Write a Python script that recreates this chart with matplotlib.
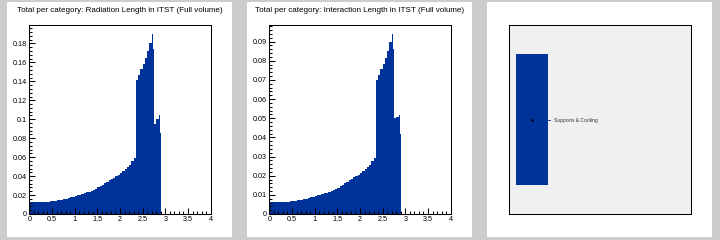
"""
Material budget per category in ITST (ROOT-style canvas with three pads).
"""

import numpy as np
import matplotlib.pyplot as plt
from matplotlib.patches import Rectangle
from matplotlib.ticker import MultipleLocator, FuncFormatter

# ============================================================
# Data
# ============================================================

# bin edges in x (0.05 wide, finer near the end of the detector)
BIN_EDGES = list(np.round(np.arange(0.0, 2.701, 0.05), 3)) + [2.725, 2.75, 2.8, 2.85, 2.875, 2.9]

RADIATION_LENGTH = [
    0.0127, 0.0127, 0.0127, 0.0127, 0.0127, 0.0127, 0.0127, 0.0127,
    0.0130, 0.0137, 0.0137, 0.0140, 0.0148, 0.0148, 0.0152, 0.0158,
    0.0162, 0.0169, 0.0175, 0.0182, 0.0190, 0.0196, 0.0204, 0.0211,
    0.0219, 0.0227, 0.0236, 0.0245, 0.0255, 0.0266, 0.0280, 0.0295,
    0.0310, 0.0325, 0.0340, 0.0355, 0.0370, 0.0385, 0.0400, 0.0415,
    0.0430, 0.0450, 0.0470, 0.0495, 0.0520, 0.0555, 0.0595,
    0.141, 0.147, 0.153, 0.158, 0.165, 0.172, 0.181,
    0.190, 0.174, 0.095, 0.100, 0.1045, 0.085,
]

INTERACTION_LENGTH = [
    0.0063, 0.0063, 0.0063, 0.0063, 0.0063, 0.0063, 0.0063, 0.0063,
    0.0064, 0.0068, 0.0068, 0.0069, 0.0073, 0.0073, 0.0075, 0.0078,
    0.0080, 0.0084, 0.0087, 0.0090, 0.0094, 0.0097, 0.0101, 0.0104,
    0.0108, 0.0112, 0.0117, 0.0121, 0.0126, 0.0132, 0.0138, 0.0146,
    0.0153, 0.0161, 0.0168, 0.0176, 0.0183, 0.0191, 0.0198, 0.0205,
    0.0213, 0.0223, 0.0233, 0.0245, 0.0257, 0.0275, 0.0295,
    0.0698, 0.0728, 0.0757, 0.0782, 0.0817, 0.0851, 0.0896,
    0.0940, 0.0862, 0.0500, 0.0508, 0.0517, 0.0420,
]

TITLES = [
    "Total per category: Radiation Length in ITST (Full volume)",
    "Total per category: Interaction Length in ITST (Full volume)",
]
Y_MAJOR = [0.02, 0.01]
CATEGORY = "Supports & Cooling"

FILL_COLOR = "#003399"
CANVAS_GRAY = "#cccccc"

plt.rcParams["font.family"] = ["Liberation Sans", "DejaVu Sans"]

W, H = 720, 240


def fig_rect(x0, y0, x1, y1):
    """Pixel box (top-left origin) -> figure fraction rect."""
    return [x0 / W, 1 - y1 / H, (x1 - x0) / W, (y1 - y0) / H]


def g_fmt(v, pos):
    return "%g" % round(v, 6)


# ============================================================
# Canvas and pads
# ============================================================

fig = plt.figure(figsize=(W / 100, H / 100), dpi=100, facecolor=CANVAS_GRAY)

pad_x = [7, 247, 487]
for px in pad_x:
    pad = fig.add_axes(fig_rect(px, 2, px + 225, 237))
    pad.set_facecolor("white")
    pad.set_xticks([])
    pad.set_yticks([])
    for spine in pad.spines.values():
        spine.set_visible(False)

# ============================================================
# Histogram pads
# ============================================================

for i, values in enumerate([RADIATION_LENGTH, INTERACTION_LENGTH]):
    px = pad_x[i]
    ax = fig.add_axes(fig_rect(px + 22.3, 25, px + 203.7, 214))
    ax.patch.set_alpha(0)

    # step fill: repeat last value so the final bin gets its width
    ax.fill_between(BIN_EDGES, list(values) + [values[-1]], 0, step="post",
                    facecolor=FILL_COLOR, edgecolor="none", linewidth=0,
                    zorder=1)

    ax.set_xlim(0, 4)
    ax.set_ylim(0, max(values) * 1.05)

    ax.xaxis.set_major_locator(MultipleLocator(0.5))
    ax.xaxis.set_minor_locator(MultipleLocator(0.1))
    ax.yaxis.set_major_locator(MultipleLocator(Y_MAJOR[i]))
    ax.yaxis.set_minor_locator(MultipleLocator(Y_MAJOR[i] / 5))
    ax.xaxis.set_major_formatter(FuncFormatter(g_fmt))
    ax.yaxis.set_major_formatter(FuncFormatter(g_fmt))

    ax.tick_params(which="both", direction="in", top=False, right=False,
                   width=0.75, labelsize=5.2, pad=1.5)
    ax.tick_params(which="major", length=4.2)
    ax.tick_params(which="minor", length=2.4)
    ax.set_axisbelow(False)

    for spine in ax.spines.values():
        spine.set_linewidth(0.75)

    fig.text((px + 112.5) / W, 1 - 10.3 / H, TITLES[i],
             ha="center", va="center", fontsize=5.8)

# ============================================================
# Legend pad
# ============================================================

leg = fig.add_axes(fig_rect(509.3, 25, 690.7, 214.3))
leg.set_facecolor("#f0f0f0")
leg.set_xlim(0, 1)
leg.set_ylim(0, 1)
leg.set_xticks([])
leg.set_yticks([])
for spine in leg.spines.values():
    spine.set_linewidth(0.75)

leg.add_patch(Rectangle((0.037, 0.156), 0.176, 0.691,
                        facecolor=FILL_COLOR, edgecolor="none"))
leg.plot([0.127], [0.498], marker="s", markersize=0.8, color="black")
leg.plot([0.213, 0.222], [0.498, 0.498], color=FILL_COLOR, linewidth=0.6)
leg.text(0.245, 0.498, CATEGORY, fontsize=3.6, color="#333333",
         ha="left", va="center")

fig.savefig("out.png", dpi=100, facecolor=CANVAS_GRAY)
